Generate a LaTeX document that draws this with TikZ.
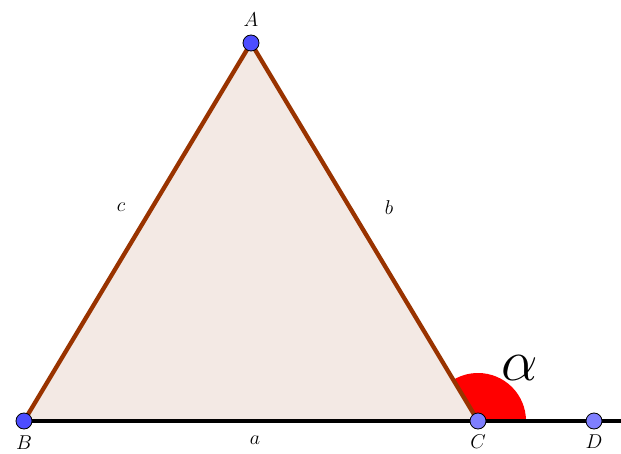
\documentclass[tikz,border=0pt]{standalone}
\usepackage{fix-cm}
\definecolor{edge}{HTML}{993300}
\definecolor{tri}{HTML}{F3E9E4}
\definecolor{ptdark}{HTML}{4D4DFF}
\definecolor{ptlight}{HTML}{7F7FFF}
\tikzset{
  pt/.style={circle,draw=black,line width=0.8pt,inner sep=0pt,minimum size=16pt},
  lbl/.style={inner sep=0pt,font=\fontsize{20}{24}\selectfont},
  side/.style={draw=edge,line width=4.3pt,line cap=round}
}
\begin{document}
\begin{tikzpicture}[x=1pt,y=1pt]
\useasboundingbox (0,0) rectangle (621,453);
\coordinate (A) at (251,410);
\coordinate (B) at (24,32);
\coordinate (C) at (478,32);
\coordinate (D) at (594,32);
\coordinate (E) at (621,32);
\fill[tri] (A) -- (B) -- (C) -- cycle;
\fill[red] (C) -- ++(0:48) arc[start angle=0,end angle=121,radius=48] -- cycle;
\draw[side] (B) -- (A) -- (C);
\draw[line width=4.3pt] (B) -- (E);
\node[pt,fill=ptdark] (nA) at (A) {};
\node[pt,fill=ptdark] (nB) at (B) {};
\node[pt,fill=ptlight] (nC) at (C) {};
\node[pt,fill=ptlight] (nD) at (D) {};
\node[lbl] (lA) at (251,433) {$A$};
\node[lbl] (lB) at (24,10) {$B$};
\node[lbl] (lC) at (478,11) {$C$};
\node[lbl] (lD) at (594,11) {$D$};
\node[lbl] (la) at (255,13) {$a$};
\node[lbl] (lb) at (389,245) {$b$};
\node[lbl] (lc) at (121,246) {$c$};
\node[inner sep=0pt,font=\fontsize{58}{64}\selectfont] (al) at (520,85) {$\alpha$};
\end{tikzpicture}
\end{document}
